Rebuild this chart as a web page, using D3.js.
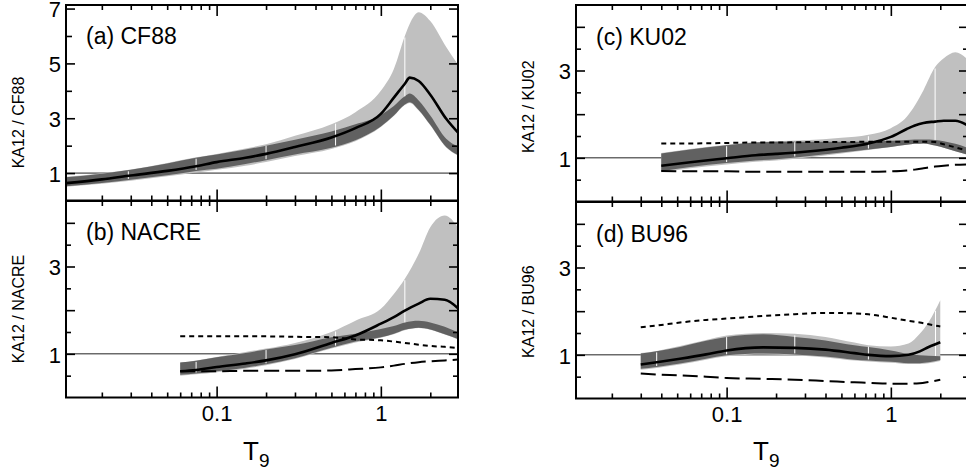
<!DOCTYPE html>
<html>
<head>
<meta charset="utf-8">
<script src="https://cdn.jsdelivr.net/npm/d3@7"></script>
<style>
body { margin: 0; background: #fff; }
svg { display: block; font-family: "Liberation Sans", Arial, Helvetica, sans-serif; }
</style>
</head>
<body>
<script>
// ---- data (T9 grid and ratios) ----

// (a) CF88
var T_A        = [0.012, 0.02, 0.03, 0.05, 0.075, 0.1, 0.15, 0.2, 0.3, 0.5, 0.7, 1.0, 1.2, 1.4, 1.5, 1.7, 2.0, 2.5, 3.0];
var A_LIGHT_HI = [0.86, 0.99, 1.13, 1.37, 1.58, 1.70, 1.90, 2.05, 2.36, 2.78, 3.22, 4.00, 4.80, 6.00, 6.45, 6.87, 6.55, 5.60, 4.90];
var A_LIGHT_LO = [0.50, 0.61, 0.72, 0.88, 1.02, 1.12, 1.27, 1.40, 1.62, 1.88, 2.16, 2.68, 3.08, 3.48, 3.56, 3.28, 2.74, 1.93, 1.62];
var A_DARK_HI  = [0.85, 0.98, 1.12, 1.35, 1.56, 1.68, 1.86, 2.00, 2.22, 2.52, 2.78, 3.12, 3.45, 3.80, 3.90, 3.65, 3.10, 2.25, 1.95];
var A_DARK_LO  = [0.52, 0.64, 0.76, 0.92, 1.08, 1.16, 1.33, 1.47, 1.68, 1.92, 2.20, 2.70, 3.10, 3.50, 3.58, 3.30, 2.76, 1.95, 1.64];
var A_KA12     = [0.63, 0.77, 0.91, 1.08, 1.25, 1.40, 1.56, 1.70, 1.95, 2.30, 2.64, 3.16, 3.75, 4.26, 4.48, 4.36, 3.86, 2.98, 2.43];
var A_SEAMS    = [0.029, 0.075, 0.2, 0.53, 1.4];

// (b) NACRE
var T_B        = [0.06, 0.075, 0.1, 0.15, 0.2, 0.3, 0.5, 0.7, 1.0, 1.2, 1.4, 1.7, 2.0, 2.45, 3.0];
var B_LIGHT_HI = [0.80, 0.85, 0.93, 1.04, 1.12, 1.25, 1.50, 1.76, 2.03, 2.37, 2.72, 3.29, 3.90, 4.17, 3.86];
var B_LIGHT_LO = [0.50, 0.53, 0.58, 0.66, 0.74, 0.88, 1.12, 1.26, 1.37, 1.45, 1.54, 1.59, 1.55, 1.44, 1.32];
var B_DARK_HI  = [0.80, 0.84, 0.92, 1.02, 1.10, 1.20, 1.38, 1.46, 1.57, 1.64, 1.72, 1.76, 1.72, 1.62, 1.48];
var B_DARK_LO  = [0.52, 0.55, 0.60, 0.68, 0.76, 0.90, 1.14, 1.28, 1.38, 1.46, 1.55, 1.60, 1.56, 1.45, 1.33];
var B_KA12     = [0.60, 0.63, 0.70, 0.78, 0.85, 0.99, 1.25, 1.42, 1.69, 1.84, 1.99, 2.15, 2.26, 2.24, 2.02];
var B_UPPER    = [1.40, 1.40, 1.40, 1.40, 1.40, 1.39, 1.38, 1.33, 1.31, 1.28, 1.25, 1.21, 1.18, 1.16, 1.13];
var B_LOWER    = [0.60, 0.60, 0.60, 0.61, 0.61, 0.61, 0.62, 0.65, 0.69, 0.73, 0.77, 0.81, 0.83, 0.85, 0.87];
var B_SEAMS    = [0.075, 0.2, 0.53, 1.4];

// (c) KU02
var T_C        = [0.04, 0.06, 0.1, 0.15, 0.2, 0.3, 0.5, 0.73, 1.0, 1.25, 1.4, 1.58, 1.86, 2.1, 2.47, 3.0];
var C_LIGHT_HI = [1.11, 1.20, 1.30, 1.36, 1.38, 1.40, 1.46, 1.53, 1.68, 1.94, 2.20, 2.55, 3.08, 3.28, 3.42, 3.22];
var C_LIGHT_LO = [0.67, 0.76, 0.85, 0.91, 0.94, 1.00, 1.10, 1.18, 1.25, 1.30, 1.32, 1.33, 1.28, 1.23, 1.15, 1.06];
var C_DARK_HI  = [1.10, 1.19, 1.29, 1.35, 1.37, 1.37, 1.37, 1.37, 1.39, 1.41, 1.42, 1.42, 1.41, 1.38, 1.32, 1.22];
var C_DARK_LO  = [0.69, 0.79, 0.88, 0.94, 0.97, 1.03, 1.12, 1.19, 1.25, 1.30, 1.32, 1.33, 1.28, 1.23, 1.15, 1.06];
var C_KA12     = [0.82, 0.90, 0.99, 1.06, 1.09, 1.14, 1.23, 1.33, 1.48, 1.66, 1.74, 1.80, 1.83, 1.85, 1.85, 1.72];
var C_UPPER    = [1.33, 1.33, 1.34, 1.35, 1.35, 1.36, 1.36, 1.37, 1.37, 1.37, 1.37, 1.37, 1.36, 1.31, 1.24, 1.15];
var C_LOWER    = [0.70, 0.69, 0.69, 0.68, 0.68, 0.68, 0.68, 0.68, 0.69, 0.71, 0.73, 0.76, 0.80, 0.82, 0.84, 0.85];
var C_SEAMS    = [0.1, 0.26, 0.73, 1.86];

// (d) BU96
var T_D        = [0.03, 0.0375, 0.052, 0.075, 0.1, 0.167, 0.26, 0.4, 0.6, 0.73, 1.0, 1.28, 1.5, 1.7, 2.0];
var D_LIGHT_HI = [1.04, 1.09, 1.20, 1.34, 1.44, 1.50, 1.48, 1.41, 1.28, 1.22, 1.19, 1.26, 1.48, 1.75, 2.25];
var D_LIGHT_LO = [0.66, 0.70, 0.78, 0.89, 0.97, 1.01, 0.99, 0.94, 0.87, 0.85, 0.82, 0.79, 0.79, 0.81, 0.86];
var D_DARK_HI  = [1.03, 1.08, 1.18, 1.32, 1.41, 1.47, 1.41, 1.33, 1.22, 1.18, 1.10, 1.02, 0.99, 0.98, 0.97];
var D_DARK_LO  = [0.68, 0.72, 0.80, 0.91, 0.99, 1.03, 1.01, 0.96, 0.89, 0.87, 0.84, 0.81, 0.81, 0.83, 0.88];
var D_KA12     = [0.78, 0.83, 0.91, 1.01, 1.10, 1.17, 1.16, 1.12, 1.04, 1.00, 0.97, 1.00, 1.08, 1.18, 1.29];
var D_UPPER    = [1.63, 1.67, 1.74, 1.80, 1.83, 1.89, 1.93, 1.96, 1.95, 1.93, 1.85, 1.78, 1.74, 1.70, 1.65];
var D_LOWER    = [0.57, 0.55, 0.53, 0.50, 0.47, 0.45, 0.43, 0.40, 0.37, 0.36, 0.34, 0.34, 0.35, 0.38, 0.43];
var D_SEAMS    = [0.0375, 0.1, 0.26, 0.73, 1.87];

// axes
var X_DOMAIN      = [0.0121, 2.95];
var X_MAJOR       = [0.1, 1];
var X_MAJOR_TEXT  = ['0.1', '1'];
var X_MINOR       = [0.02, 0.03, 0.04, 0.05, 0.06, 0.07, 0.08, 0.09, 0.2, 0.3, 0.4, 0.5, 0.6, 0.7, 0.8, 0.9, 2];
var YA_LABELED    = [1, 3, 5, 7];
var YA_OTHER      = [2, 4, 6];
var Y_LABELED     = [1, 3];
var Y_OTHER       = [2, 4];
var Y_HALF        = [0.5, 1.5, 2.5, 3.5];

// ---- layout ----
var svgWidth = 966, svgHeight = 475;
var cols = [{x0: 66, x1: 458}, {x0: 576, x1: 968}];
var rows = [
	[{y0: 5, y1: 200.5}, {y0: 201, y1: 397.5}],
	[{y0: 5, y1: 201.5}, {y0: 202, y1: 398.5}]
];

var panels = [
	{col: 0, row: 0, title: '(a) CF88', ylab: 'KA12 / CF88', ymax: 7.13, labY: 122.5, titleY: 44,
	 T: T_A, lightLo: A_LIGHT_LO, lightHi: A_LIGHT_HI, darkLo: A_DARK_LO, darkHi: A_DARK_HI, ka: A_KA12, seams: A_SEAMS,
	 yLabeled: YA_LABELED, yOther: YA_OTHER, yHalf: []},
	{col: 0, row: 1, title: '(b) NACRE', ylab: 'KA12 / NACRE', ymax: 4.5, labY: 309, titleY: 240,
	 T: T_B, lightLo: B_LIGHT_LO, lightHi: B_LIGHT_HI, darkLo: B_DARK_LO, darkHi: B_DARK_HI, ka: B_KA12, seams: B_SEAMS,
	 upper: B_UPPER, lower: B_LOWER, yLabeled: Y_LABELED, yOther: Y_OTHER, yHalf: Y_HALF},
	{col: 1, row: 0, title: '(c) KU02', ylab: 'KA12 / KU02', ymax: 4.5, labY: 106.7, titleY: 45,
	 T: T_C, lightLo: C_LIGHT_LO, lightHi: C_LIGHT_HI, darkLo: C_DARK_LO, darkHi: C_DARK_HI, ka: C_KA12, seams: C_SEAMS,
	 upper: C_UPPER, lower: C_LOWER, yLabeled: Y_LABELED, yOther: Y_OTHER, yHalf: Y_HALF},
	{col: 1, row: 1, title: '(d) BU96', ylab: 'KA12 / BU96', ymax: 4.5, labY: 311.7, titleY: 241.5,
	 T: T_D, lightLo: D_LIGHT_LO, lightHi: D_LIGHT_HI, darkLo: D_DARK_LO, darkHi: D_DARK_HI, ka: D_KA12, seams: D_SEAMS,
	 upper: D_UPPER, lower: D_LOWER, yLabeled: Y_LABELED, yOther: Y_OTHER, yHalf: Y_HALF}
];

var svg = d3.select('body').append('svg')
	.attr('width', svgWidth)
	.attr('height', svgHeight);

var defs = svg.append('defs');

panels.forEach(function (p, k) {
	var c = cols[p.col], r = rows[p.col][p.row];
	var x = d3.scaleLog().domain(X_DOMAIN).range([c.x0, c.x1]);
	var y = d3.scaleLinear().domain([0, p.ymax]).range([r.y1, r.y0]);
	var g = svg.append('g');

	defs.append('clipPath').attr('id', 'clip' + k)
		.append('rect')
		.attr('x', c.x0).attr('y', r.y0)
		.attr('width', c.x1 - c.x0).attr('height', r.y1 - r.y0);

	var plot = g.append('g').attr('clip-path', 'url(#clip' + k + ')');

	// ratio = 1 reference line
	plot.append('line')
		.attr('x1', c.x0).attr('x2', c.x1)
		.attr('y1', y(1)).attr('y2', y(1))
		.attr('stroke', '#222').attr('stroke-width', 1);

	function band(lo, hi) {
		return d3.area()
			.x(function (d) { return x(d); })
			.y0(function (d, i) { return y(lo[i]); })
			.y1(function (d, i) { return y(hi[i]); })
			.curve(d3.curveMonotoneX)(p.T);
	}
	function curve(vals) {
		return d3.line()
			.x(function (d) { return x(d); })
			.y(function (d, i) { return y(vals[i]); })
			.curve(d3.curveMonotoneX)(p.T);
	}

	plot.append('path').attr('d', band(p.lightLo, p.lightHi)).attr('fill', '#c0c0c0');
	plot.append('path').attr('d', band(p.darkLo, p.darkHi)).attr('fill', '#616161');

	// thin white seams between band pieces
	var lightTop = d3.scaleLog().domain(p.T).range(p.lightHi);
	var darkTop = d3.scaleLog().domain(p.T).range(p.darkHi);
	var darkBot = d3.scaleLog().domain(p.T).range(p.darkLo);
	plot.selectAll('line.seam')
		.data(p.seams)
		.enter()
		.append('line')
		.attr('class', 'seam')
		.attr('x1', function (d) { return x(d); })
		.attr('x2', function (d) { return x(d); })
		.attr('y1', function (d) { return y(lightTop(d)) + 1.5; })
		.attr('y2', function (d) {
			var wide = lightTop(d) - darkTop(d) > 0.5;
			return wide ? y(darkTop(d)) : y(darkBot(d)) - 1;
		})
		.attr('stroke', '#fff').attr('stroke-width', 1);

	if (p.upper) {
		plot.append('path').attr('d', curve(p.upper))
			.attr('fill', 'none').attr('stroke', '#000')
			.attr('stroke-width', 2).attr('stroke-dasharray', '5,4');
		plot.append('path').attr('d', curve(p.lower))
			.attr('fill', 'none').attr('stroke', '#000')
			.attr('stroke-width', 2).attr('stroke-dasharray', '15,6');
	}

	plot.append('path').attr('d', curve(p.ka))
		.attr('fill', 'none').attr('stroke', '#000')
		.attr('stroke-width', 2.6).attr('stroke-linejoin', 'round');

	// ticks (all pointing inward)
	function ticks(gen, tx, ty, vals, len, texts, pad) {
		var a = g.append('g')
			.attr('transform', 'translate(' + tx + ',' + ty + ')')
			.call(gen.tickValues(vals)
				.tickSize(-len).tickSizeOuter(0)
				.tickPadding(pad || 3)
				.tickFormat(function (d, i) { return texts ? texts[i] : ''; }));
		a.select('.domain').remove();
		a.selectAll('line').attr('stroke', '#000').attr('stroke-width', 1.6);
		a.attr('font-size', 22).attr('font-family', null);
		a.selectAll('text').attr('fill', '#000');
		return a;
	}

	var isBottom = p.row === 1;
	ticks(d3.axisBottom(x), 0, r.y1, X_MAJOR, 11, isBottom ? X_MAJOR_TEXT : null, 8);
	ticks(d3.axisBottom(x), 0, r.y1, X_MINOR, 5);
	ticks(d3.axisTop(x), 0, r.y0, X_MAJOR, 11);
	ticks(d3.axisTop(x), 0, r.y0, X_MINOR, 5);

	ticks(d3.axisLeft(y), c.x0, 0, p.yLabeled, 9, p.yLabeled.map(String), 5)
		.selectAll('text').attr('dy', '0.38em');
	ticks(d3.axisLeft(y), c.x0, 0, p.yOther, p.yHalf.length ? 9 : 6);
	ticks(d3.axisRight(y), c.x1, 0, p.yLabeled, 9);
	ticks(d3.axisRight(y), c.x1, 0, p.yOther, p.yHalf.length ? 9 : 6);
	if (p.yHalf.length) {
		ticks(d3.axisLeft(y), c.x0, 0, p.yHalf, 5);
		ticks(d3.axisRight(y), c.x1, 0, p.yHalf, 5);
	}

	// frame
	g.append('rect')
		.attr('x', c.x0).attr('y', r.y0)
		.attr('width', c.x1 - c.x0).attr('height', r.y1 - r.y0)
		.attr('fill', 'none').attr('stroke', '#000').attr('stroke-width', 2);

	// panel title
	g.append('text')
		.attr('x', c.x0 + 20).attr('y', p.titleY)
		.attr('font-size', 23)
		.text(p.title);

	// y label
	g.append('text')
		.attr('transform', 'translate(' + (c.x0 - 42.5) + ',' + p.labY + ') rotate(-90)')
		.attr('text-anchor', 'middle')
		.attr('font-size', 16)
		.text(p.ylab);
});

// x labels: T9
cols.forEach(function (c) {
	var t = svg.append('text')
		.attr('x', (c.x0 + c.x1) / 2 - 19)
		.attr('y', 460)
		.attr('font-size', 26);
	t.append('tspan').text('T');
	t.append('tspan').attr('dy', 6.5).attr('font-size', 19).text('9');
});
</script>
</body>
</html>
